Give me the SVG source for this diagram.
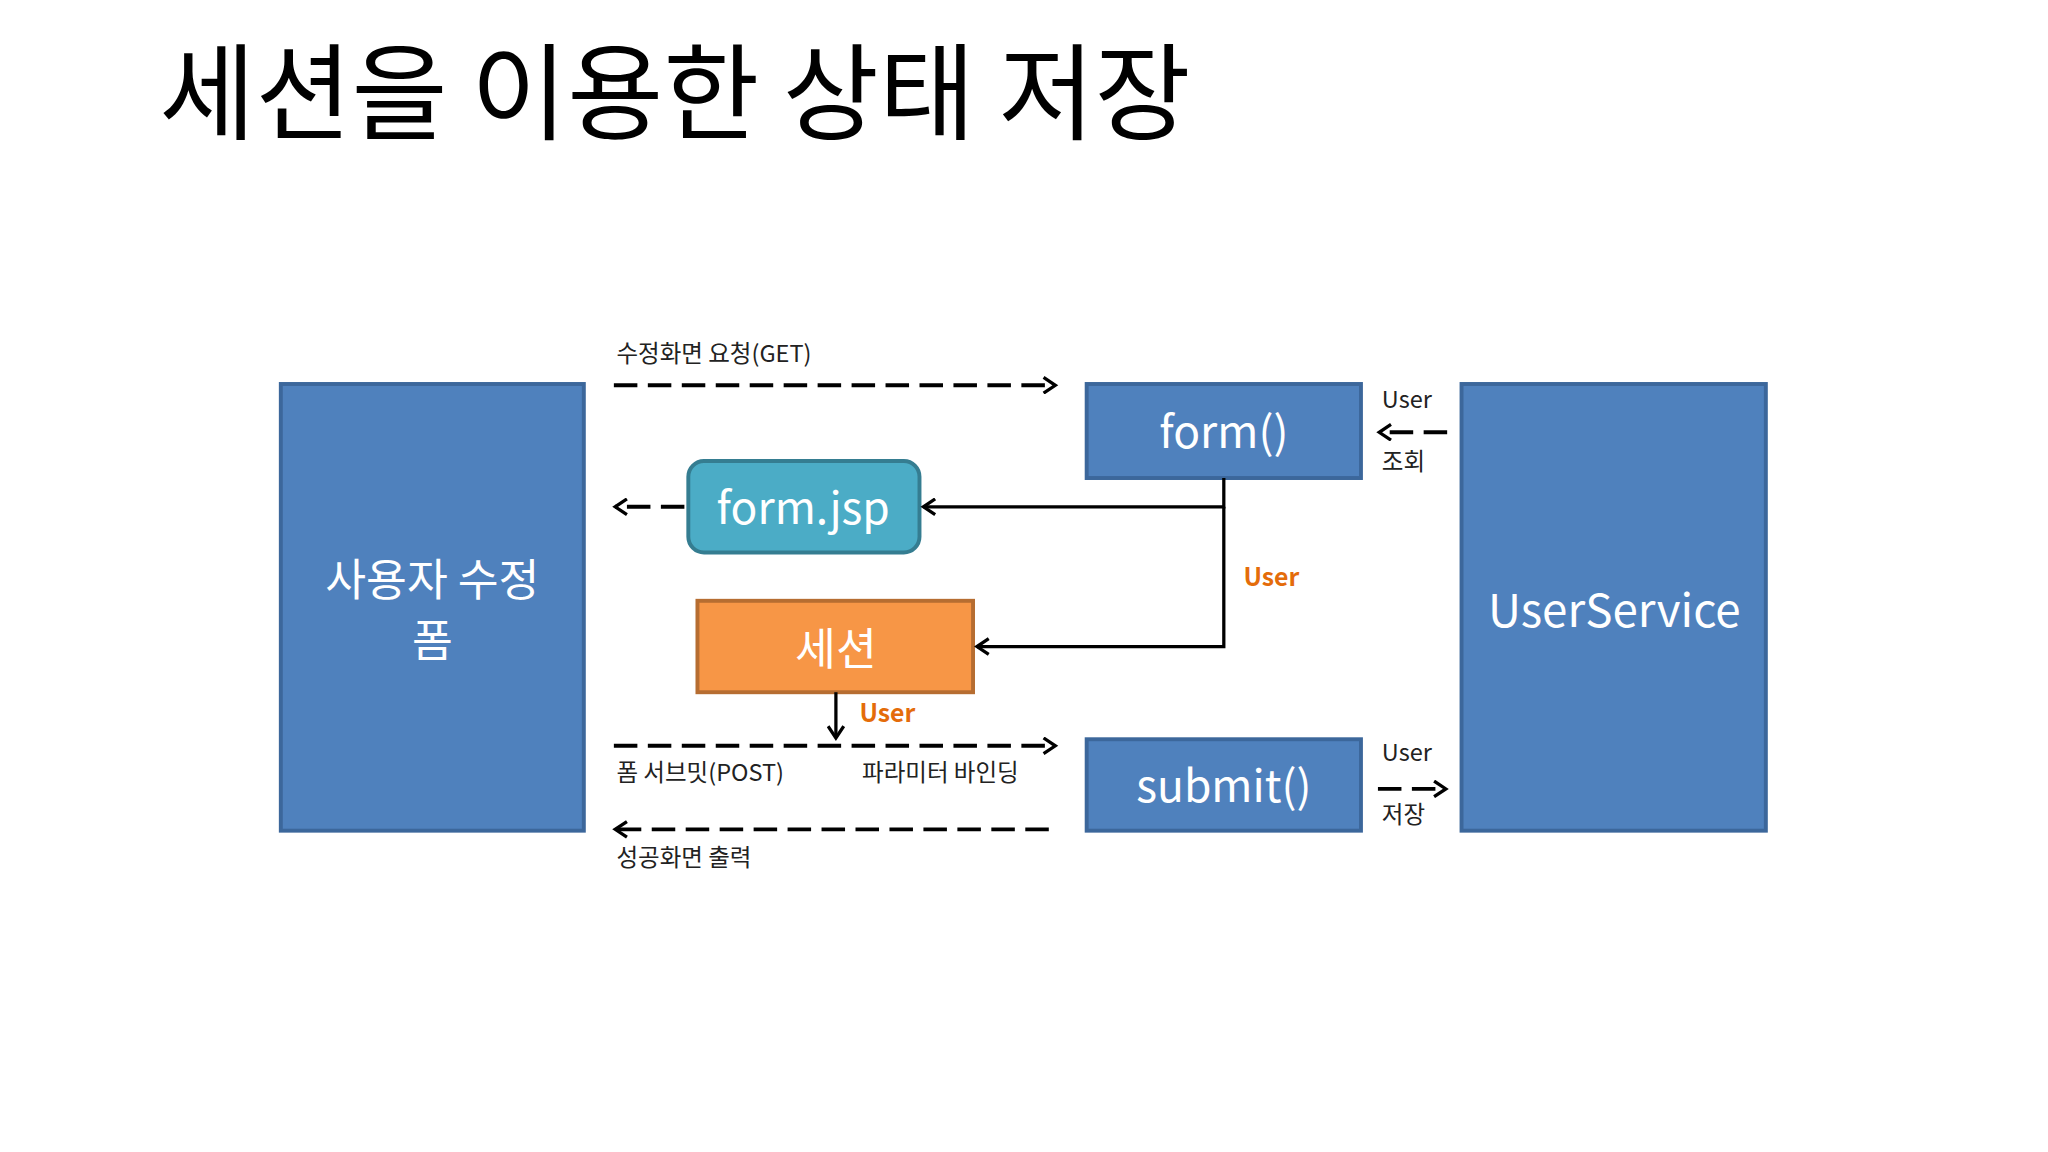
<svg xmlns="http://www.w3.org/2000/svg" width="2048" height="1152" viewBox="0 0 2048 1152">
<defs>
<style>
.t{font-family:"Noto Sans CJK KR","Noto Sans",sans-serif}
.lbl{font-size:18px;fill:#222}
.w{fill:#fff;text-anchor:middle}
.o{fill:#e46c0a;font-weight:bold;font-size:19px}
.blue{fill:#4f81bd;stroke:#3c679b;stroke-width:3}
.ln{stroke:#000;stroke-width:2.5;fill:none}
.d{stroke-dasharray:18 8;stroke-width:3}
</style>
<marker id="a" markerWidth="14" markerHeight="14" refX="11" refY="7" orient="auto" markerUnits="userSpaceOnUse">
<polyline points="2,1 11,7 2,13" fill="none" stroke="#000" stroke-width="2.5"/>
</marker>
</defs>
<rect width="2048" height="1152" fill="#fff"/>
<g transform="scale(1.3061)">
<text class="t" x="122" y="100" font-size="80" fill="#000">세션을 이용한 상태 저장</text>
<g id="user-form"><rect class="blue" x="215" y="294" width="232" height="342"/>
<text class="t w" x="331" y="456" font-size="34">사용자 수정</text><text class="t w" x="331" y="503" font-size="34">폼</text></g>
<g id="form"><rect class="blue" x="832" y="294" width="210" height="72"/><text class="t w" x="937" y="343" font-size="34">form()</text></g>
<g id="submit"><rect class="blue" x="832" y="566" width="210" height="70"/><text class="t w" x="937" y="614" font-size="34">submit()</text></g>
<g id="userservice"><rect class="blue" x="1119" y="294" width="233" height="342"/><text class="t w" x="1236" y="480" font-size="35">UserService</text></g>
<g id="formjsp"><rect x="527" y="353" width="177" height="70" rx="12" fill="#4bacc6" stroke="#357d91" stroke-width="3"/><text class="t w" x="615" y="401" font-size="34">form.jsp</text></g>
<g id="session"><rect x="534" y="460" width="211" height="70" fill="#f79646" stroke="#b66d31" stroke-width="3"/><text class="t w" x="640" y="509" font-size="34">세션</text></g>
<g id="connectors">
<line class="ln d" x1="470" y1="295" x2="808" y2="295" marker-end="url(#a)"/>
<polyline class="ln" points="937,366 937,388 707,388" marker-end="url(#a)"/>
<polyline class="ln" points="937,388 937,495 748,495" marker-end="url(#a)"/>
<line class="ln d" x1="524" y1="388" x2="471" y2="388" marker-end="url(#a)"/>
<line class="ln d" x1="1108" y1="331" x2="1056" y2="331" marker-end="url(#a)"/>
<line class="ln" x1="640" y1="530" x2="640" y2="565" marker-end="url(#a)"/>
<line class="ln d" x1="470" y1="571" x2="808" y2="571" marker-end="url(#a)"/>
<line class="ln d" x1="803" y1="635" x2="471" y2="635" marker-end="url(#a)"/>
<line class="ln d" x1="1055" y1="604" x2="1107" y2="604" marker-end="url(#a)"/>
<text class="t lbl" x="472" y="277">수정화면 요청(GET)</text>
<text class="t lbl" x="1058" y="312">User</text>
<text class="t lbl" x="1058" y="360">조회</text>
<text class="t o" x="952" y="449">User</text>
<text class="t o" x="658" y="553">User</text>
<text class="t lbl" x="472" y="598">폼 서브밋(POST)</text>
<text class="t lbl" x="660" y="598">파라미터 바인딩</text>
<text class="t lbl" x="472" y="663">성공화면 출력</text>
<text class="t lbl" x="1058" y="583">User</text>
<text class="t lbl" x="1058" y="630">저장</text>
</g>
</g>
</svg>
